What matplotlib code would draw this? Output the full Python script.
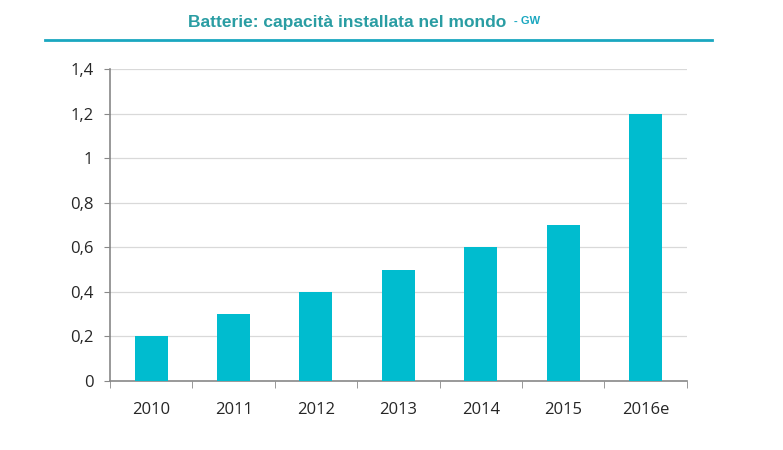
import numpy as np
from matplotlib import pyplot as plt
from matplotlib.lines import Line2D

years = ["2010", "2011", "2012", "2013", "2014", "2015", "2016e"]
capacity = [0.2, 0.3, 0.4, 0.5, 0.6, 0.7, 1.2]
yticks = [0, 0.2, 0.4, 0.6, 0.8, 1.0, 1.2, 1.4]
ylabels = ["0", "0,2", "0,4", "0,6", "0,8", "1", "1,2", "1,4"]

fig = plt.figure(figsize=(7.83, 4.5), dpi=100)
ax = fig.add_axes([0.1405, 0.1533, 0.7365, 0.6934])

x = np.arange(len(years))
ax.bar(x, capacity, width=0.4, color="#00bccf", zorder=3)

ax.set_xlim(-0.5, len(years) - 0.5)
ax.set_ylim(0, 1.4)
ax.set_yticks(yticks)
ax.set_yticklabels(ylabels, fontfamily="Open Sans", fontsize=12, color="#262626")
ax.set_xticks(x)
ax.set_xticklabels(years, fontfamily="Open Sans", fontsize=12, color="#262626")
ax.tick_params(axis="x", length=0, pad=15)
ax.tick_params(axis="y", length=4, color="#888888", pad=8)
# tick marks between categories
ax.set_xticks(np.arange(-0.5, len(years)), minor=True)
ax.tick_params(axis="x", which="minor", length=5, color="#888888", direction="out")

ax.yaxis.grid(True, color="#d9d9d9", linewidth=0.9, zorder=0)
for s in ["top", "right"]:
    ax.spines[s].set_visible(False)
ax.spines["left"].set_color("#888888")
ax.spines["bottom"].set_color("#888888")
ax.spines["left"].set_linewidth(1.2)
ax.spines["bottom"].set_linewidth(1.2)

fig.text(0.24, 0.951, "Batterie: capacità installata nel mondo", fontfamily="Liberation Sans",
         fontweight="bold", fontsize=12.5, color="#2a9da3", va="center", ha="left")
fig.text(0.657, 0.953, "- GW", fontfamily="Liberation Sans", fontweight="bold",
         fontsize=8, color="#1aa7c0", va="center", ha="left")
fig.add_artist(Line2D([45 / 783, 712 / 783], [1 - 40 / 450, 1 - 40 / 450],
                      color="#1aa7c0", linewidth=2))

fig.savefig("out.png", dpi=100)
